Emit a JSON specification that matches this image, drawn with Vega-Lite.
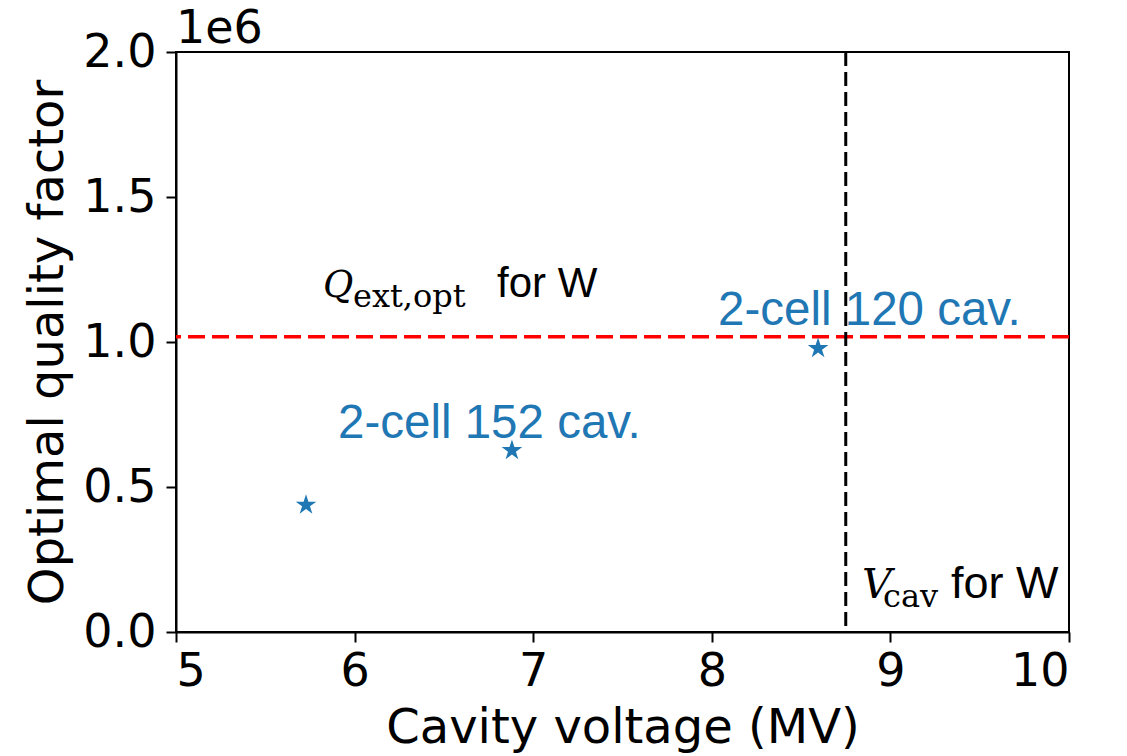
{
  "$schema": "https://vega.github.io/schema/vega-lite/v6.json",
  "width": 893,
  "height": 580,
  "autosize": "none",
  "padding": {"left": 176, "top": 52, "right": 58, "bottom": 124},
  "background": "white",
  "config": {
    "view": {"stroke": "black", "strokeWidth": 2},
    "axis": {
      "grid": false,
      "domainColor": "black",
      "domainWidth": 2,
      "tickColor": "black",
      "tickWidth": 2,
      "tickSize": 10,
      "labelFont": "DejaVu Sans",
      "labelFontSize": 46,
      "labelColor": "black",
      "titleFont": "DejaVu Sans",
      "titleFontSize": 48,
      "titleFontWeight": "normal",
      "titleColor": "black"
    }
  },
  "datasets": {
    "points": [
      {"voltage": 5.728, "q": 438000},
      {"voltage": 6.881, "q": 626000},
      {"voltage": 8.595, "q": 978000}
    ]
  },
  "layer": [
    {
      "data": {"values": [{"qopt": 1018000}]},
      "mark": {"type": "rule", "color": "#ff0000", "strokeWidth": 3.5, "strokeDash": [17, 7]},
      "encoding": {
        "y": {"field": "qopt", "type": "quantitative", "scale": {"domain": [0, 2000000]}}
      }
    },
    {
      "data": {"values": [{"vcav": 8.75}]},
      "mark": {"type": "rule", "color": "black", "strokeWidth": 3, "strokeDash": [14, 6]},
      "encoding": {
        "x": {"field": "vcav", "type": "quantitative", "scale": {"domain": [5, 10]}}
      }
    },
    {
      "data": {"name": "points"},
      "mark": {
        "type": "point",
        "filled": true,
        "opacity": 1,
        "color": "#1f77b4",
        "size": 470,
        "shape": "M0,-1L0.2245,-0.309L0.951,-0.309L0.363,0.118L0.588,0.809L0,0.382L-0.588,0.809L-0.363,0.118L-0.951,-0.309L-0.2245,-0.309Z"
      },
      "encoding": {
        "x": {
          "field": "voltage",
          "type": "quantitative",
          "scale": {"domain": [5, 10], "nice": false, "zero": false},
          "axis": {
            "title": "Cavity voltage (MV)",
            "values": [5, 6, 7, 8, 9, 10],
            "format": "d",
            "labelPadding": 7,
            "titlePadding": 10
          }
        },
        "y": {
          "field": "q",
          "type": "quantitative",
          "scale": {"domain": [0, 2000000], "nice": false},
          "axis": {
            "title": "Optimal quality factor",
            "values": [0, 500000, 1000000, 1500000, 2000000],
            "labelExpr": "format(datum.value / 1000000, '.1f')",
            "labelPadding": 10,
            "titlePadding": 10
          }
        }
      }
    },
    {
      "data": {"values": [{"x": 5, "y": 2000000, "label": "1e6"}]},
      "mark": {"type": "text", "align": "left", "baseline": "alphabetic", "font": "DejaVu Sans", "fontSize": 46, "color": "black", "dy": -9, "clip": false},
      "encoding": {
        "x": {"field": "x", "type": "quantitative"},
        "y": {"field": "y", "type": "quantitative"},
        "text": {"field": "label"}
      }
    },
    {
      "data": {"values": [
        {"x": 5.907, "y": 669000, "label": "2-cell 152 cav."},
        {"x": 8.035, "y": 1059000, "label": "2-cell 120 cav."}
      ]},
      "mark": {"type": "text", "align": "left", "baseline": "alphabetic", "font": "Liberation Sans", "fontSize": 47.5, "color": "#1f77b4"},
      "encoding": {
        "x": {"field": "x", "type": "quantitative"},
        "y": {"field": "y", "type": "quantitative"},
        "text": {"field": "label"}
      }
    },
    {
      "data": {"values": [{"x": 5.823, "y": 1155000, "sym": "Q", "sub": "ext,opt", "rest": "for W"}]},
      "layer": [
        {
          "mark": {"type": "text", "align": "left", "baseline": "alphabetic", "font": "DejaVu Serif", "fontStyle": "italic", "fontSize": 37, "color": "black"},
          "encoding": {"x": {"field": "x", "type": "quantitative"}, "y": {"field": "y", "type": "quantitative"}, "text": {"field": "sym"}}
        },
        {
          "mark": {"type": "text", "align": "left", "baseline": "alphabetic", "font": "DejaVu Serif", "fontSize": 32, "color": "black", "dx": 30, "dy": 10},
          "encoding": {"x": {"field": "x", "type": "quantitative"}, "y": {"field": "y", "type": "quantitative"}, "text": {"field": "sub"}}
        },
        {
          "mark": {"type": "text", "align": "left", "baseline": "alphabetic", "font": "Liberation Sans", "fontSize": 42, "color": "black", "dx": 174},
          "encoding": {"x": {"field": "x", "type": "quantitative"}, "y": {"field": "y", "type": "quantitative"}, "text": {"field": "rest"}}
        }
      ]
    },
    {
      "data": {"values": [{"x": 8.841, "y": 117000, "sym": "V", "sub": "cav", "rest": "for W"}]},
      "layer": [
        {
          "mark": {"type": "text", "align": "left", "baseline": "alphabetic", "font": "DejaVu Serif", "fontStyle": "italic", "fontSize": 41, "color": "black"},
          "encoding": {"x": {"field": "x", "type": "quantitative"}, "y": {"field": "y", "type": "quantitative"}, "text": {"field": "sym"}}
        },
        {
          "mark": {"type": "text", "align": "left", "baseline": "alphabetic", "font": "DejaVu Serif", "fontSize": 32, "color": "black", "dx": 21, "dy": 9},
          "encoding": {"x": {"field": "x", "type": "quantitative"}, "y": {"field": "y", "type": "quantitative"}, "text": {"field": "sub"}}
        },
        {
          "mark": {"type": "text", "align": "left", "baseline": "alphabetic", "font": "Liberation Sans", "fontSize": 45, "color": "black", "dx": 89},
          "encoding": {"x": {"field": "x", "type": "quantitative"}, "y": {"field": "y", "type": "quantitative"}, "text": {"field": "rest"}}
        }
      ]
    }
  ]
}
